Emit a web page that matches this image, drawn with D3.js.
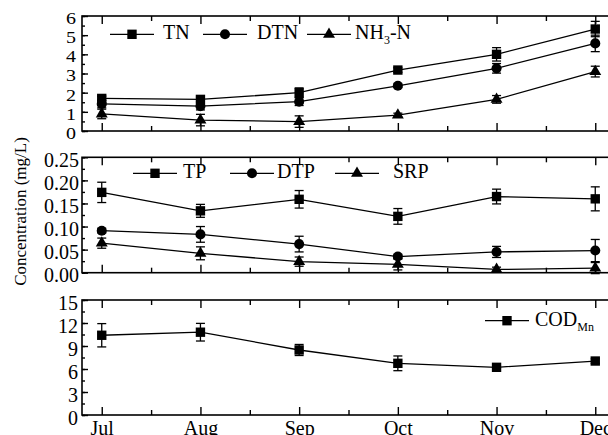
<!DOCTYPE html>
<html>
<head>
<meta charset="utf-8">
<script src="https://cdn.jsdelivr.net/npm/d3@7"></script>
<style>
body { margin: 0; background: #fff; }
svg { display: block; }
text { font-family: "Liberation Serif", "Times New Roman", serif; fill: #000; }
</style>
</head>
<body>
<svg width="608" height="435"></svg>
<script>
// months on the x axis
const months = ["Jul", "Aug", "Sep", "Oct", "Nov", "Dec"];

// nitrogen (top panel)
const tn = [1.70, 1.65, 2.00, 3.18, 4.00, 5.32];
const tnErr = [0.12, 0.12, 0.25, 0.12, 0.35, 0.40];
const dtn = [1.41, 1.30, 1.53, 2.36, 3.27, 4.57];
const dtnErr = [0.20, 0.20, 0.20, 0.10, 0.25, 0.43];
const nh3n = [0.89, 0.57, 0.49, 0.83, 1.65, 3.10];
const nh3nErr = [0.25, 0.30, 0.30, 0.10, 0.20, 0.28];

// phosphorus (middle panel)
const tp = [0.174, 0.134, 0.159, 0.122, 0.165, 0.160];
const tpErr = [0.022, 0.014, 0.019, 0.017, 0.016, 0.026];
const dtp = [0.091, 0.083, 0.062, 0.035, 0.045, 0.048];
const dtpErr = [0.005, 0.017, 0.017, 0.005, 0.012, 0.024];
const srp = [0.064, 0.042, 0.024, 0.018, 0.007, 0.010];
const srpErr = [0.011, 0.014, 0.010, 0.012, 0.005, 0.012];

// COD (bottom panel)
const cod = [10.4, 10.8, 8.48, 6.74, 6.22, 7.04];
const codErr = [1.52, 1.15, 0.72, 0.96, 0.20, 0.30];

// tick labels
const topTicks = [0, 1, 2, 3, 4, 5, 6];
const midTicks = [0, 0.05, 0.10, 0.15, 0.20, 0.25];
const botTicks = [0, 3, 6, 9, 12, 15];

const svg = d3.select("svg");
const x = d3.scaleLinear().domain([-0.2, 5.2]).range([82, 615]);

const sq = d3.symbol().type(d3.symbolSquare).size(88);
const ci = d3.symbol().type(d3.symbolCircle).size(80);
const tr = d3.symbol().type(d3.symbolTriangle).size(62);

const panels = [
    {
        y: d3.scaleLinear().domain([0, 6]).range([131, 16]),
        ticks: topTicks, minor: 0.5, fmt: d3.format("d"), squash: 0.82, pad: 6,
        series: [
            { v: tn, e: tnErr, sym: sq, name: ["TN"] },
            { v: dtn, e: dtnErr, sym: ci, name: ["DTN"] },
            { v: nh3n, e: nh3nErr, sym: tr, name: ["NH", "3", "-N"] }
        ],
        legY: 34.3, legX: [110, 203, 307], legT: [163, 257, 355]
    },
    {
        y: d3.scaleLinear().domain([0, 0.25]).range([272.7, 157.3]),
        ticks: midTicks, minor: 0.025, fmt: d3.format(".2f"), squash: 1, pad: 3,
        series: [
            { v: tp, e: tpErr, sym: sq, name: ["TP"] },
            { v: dtp, e: dtpErr, sym: ci, name: ["DTP"] },
            { v: srp, e: srpErr, sym: tr, name: ["SRP"] }
        ],
        legY: 173.3, legX: [133, 230, 335], legT: [183, 277, 393]
    },
    {
        y: d3.scaleLinear().domain([0, 15]).range([415, 300]),
        ticks: botTicks, minor: 1.5, fmt: d3.format("d"), squash: 1, pad: 4,
        series: [
            { v: cod, e: codErr, sym: sq, name: ["COD", "Mn"] }
        ],
        legY: 320.7, legX: [485], legT: [535],
        labels: true
    }
];

const majorX = d3.range(months.length);
const minorX = d3.range(0.5, months.length - 1, 1);

panels.forEach(p => {
    const y = p.y;
    const [y0, y1] = y.range();
    const g = svg.append("g");
    const minorY = d3.range(0, y.domain()[1] + 1e-9, p.minor);

    // frame
    g.append("rect")
        .attr("x", x.range()[0]).attr("y", y1)
        .attr("width", x.range()[1] - x.range()[0]).attr("height", y0 - y1)
        .attr("fill", "none").attr("stroke", "#000").attr("stroke-width", 1.6);

    // left axis, major + minor
    const left = g.append("g")
        .attr("transform", `translate(${x.range()[0]},0)`)
        .call(d3.axisLeft(y).tickValues(p.ticks).tickSize(-6).tickPadding(p.pad).tickFormat(p.fmt));
    g.append("g")
        .attr("transform", `translate(${x.range()[0]},0)`)
        .call(d3.axisLeft(y).tickValues(minorY).tickSize(-3).tickFormat(""));

    // bottom + top axes
    g.append("g")
        .attr("transform", `translate(0,${y0})`)
        .call(d3.axisBottom(x).tickValues(majorX).tickSize(-8).tickPadding(6)
            .tickFormat(i => p.labels ? months[i] : ""));
    g.append("g")
        .attr("transform", `translate(0,${y0})`)
        .call(d3.axisBottom(x).tickValues(minorX).tickSize(-5).tickFormat(""));
    g.append("g")
        .attr("transform", `translate(0,${y1})`)
        .call(d3.axisTop(x).tickValues(majorX).tickSize(-8).tickFormat(""));
    g.append("g")
        .attr("transform", `translate(0,${y1})`)
        .call(d3.axisTop(x).tickValues(minorX).tickSize(-5).tickFormat(""));

    g.selectAll(".domain").remove();
    g.selectAll(".tick line").attr("stroke", "#000").attr("stroke-width", 1.4);
    g.selectAll(".tick text").attr("font-size", 20).attr("font-family", "Liberation Serif, serif").attr("fill", "#000");
    left.selectAll(".tick text")
        .attr("dy", "0.45em")
        .attr("transform", `scale(1,${p.squash})`);

    // series
    p.series.forEach((s, k) => {
        const line = d3.line().x((d, i) => x(i)).y(d => y(d));
        g.append("path").datum(s.v)
            .attr("d", line).attr("fill", "none").attr("stroke", "#000").attr("stroke-width", 1.3);

        const eb = g.append("g").attr("stroke", "#000").attr("stroke-width", 1.3);
        s.v.forEach((v, i) => {
            const cx = x(i), ya = y(v + s.e[i]), yb = y(v - s.e[i]);
            eb.append("line").attr("x1", cx).attr("x2", cx).attr("y1", ya).attr("y2", yb);
            eb.append("line").attr("x1", cx - 4.5).attr("x2", cx + 4.5).attr("y1", ya).attr("y2", ya);
            eb.append("line").attr("x1", cx - 4.5).attr("x2", cx + 4.5).attr("y1", yb).attr("y2", yb);
        });

        g.selectAll(null).data(s.v).enter().append("path")
            .attr("d", s.sym)
            .attr("transform", (d, i) => `translate(${x(i)},${y(d)})`)
            .attr("fill", "#000");

        // legend
        const lx = p.legX[k], ly = p.legY;
        g.append("line").attr("x1", lx).attr("x2", lx + 44).attr("y1", ly).attr("y2", ly)
            .attr("stroke", "#000").attr("stroke-width", 1.3);
        g.append("path").attr("d", s.sym).attr("transform", `translate(${lx + 22},${ly})`).attr("fill", "#000");
        const t = g.append("text").attr("x", p.legT[k]).attr("y", ly + 5).attr("font-size", 20);
        t.append("tspan").text(s.name[0]);
        if (s.name[1]) {
            t.append("tspan").attr("dy", 5).attr("font-size", 12).text(s.name[1]);
            if (s.name[2]) t.append("tspan").attr("dy", -5).text(s.name[2]);
        }
    });
});

svg.append("text")
    .attr("transform", "translate(26,211.5) rotate(-90)")
    .attr("text-anchor", "middle")
    .attr("font-size", 17)
    .text("Concentration (mg/L)");
</script>
</body>
</html>
